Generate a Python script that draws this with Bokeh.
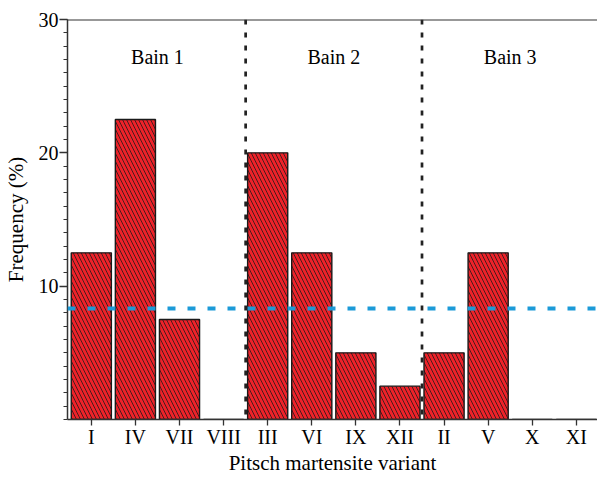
from bokeh.plotting import figure
from bokeh.models import Range1d, FixedTicker, Span, ColumnDataSource
from bokeh.embed import file_html
from bokeh.resources import INLINE
from bokeh.core.properties import value

# ---- data ----
variants = ["I", "IV", "VII", "VIII", "III", "VI", "IX", "XII", "II", "V", "X", "XI"]
frequency = [12.5, 22.5, 7.5, 0, 20, 12.5, 5, 2.5, 5, 12.5, 0, 0]
bain_groups = ["Bain 1", "Bain 2", "Bain 3"]
group_sizes = [4, 4, 4]
random_level = 8.33
y_ticks = [10, 20, 30]

FONT = "Liberation Serif"
AX = "#333333"

xs = list(range(len(variants)))
src = ColumnDataSource(dict(x=xs, top=frequency, name=variants))

p = figure(width=597, height=477, output_backend="svg", toolbar_location=None,
           x_range=Range1d(-0.54, 11.48), y_range=Range1d(0, 30),
           min_border_left=67, min_border_right=0, min_border_top=19,
           min_border_bottom=57)
p.outline_line_color = None
p.grid.visible = False
p.background_fill_color = "white"
p.border_fill_color = "white"

p.vbar(x="x", top="top", bottom=0, width=0.91, source=src,
       fill_color="#ee2229", line_color="#1a1a1a", line_width=1.4,
       hatch_pattern="left_diagonal_line", hatch_color="#1a1a1a",
       hatch_scale=8, hatch_weight=0.8)

# random-distribution reference line
p.add_layout(Span(location=random_level, dimension="width",
                  line_color="#1b9ad8", line_width=4, line_dash="8 12"))

# group separators and labels
start = 0
centers = []
bounds = []
for n in group_sizes:
    centers.append(start + (n - 1) / 2)
    start += n
    bounds.append(start - 0.5)
for b in bounds[:-1]:
    p.add_layout(Span(location=b, dimension="height", line_color="#222222",
                      line_width=2.7, line_dash="5 8"))

p.text(x=centers, y=[27.2] * len(centers), text=bain_groups,
       text_font=value(FONT), text_font_size="20px", text_color="black",
       text_align="center", text_baseline="middle")

# top border line
p.add_layout(Span(location=30, dimension="width", line_color=AX, line_width=2))

# axes
p.xaxis.ticker = FixedTicker(ticks=xs, minor_ticks=[])
p.xaxis.major_label_overrides = {i: v for i, v in zip(xs, variants)}
p.yaxis.ticker = FixedTicker(ticks=y_ticks, minor_ticks=list(range(0, 31)))

for ax in (p.xaxis[0], p.yaxis[0]):
    ax.axis_line_color = AX
    ax.axis_line_width = 1.5
    ax.major_tick_line_color = AX
    ax.minor_tick_line_color = AX
    ax.major_tick_line_width = 1.3
    ax.minor_tick_line_width = 1.1
    ax.major_tick_in = 0
    ax.minor_tick_in = 0
    ax.major_label_text_font = FONT
    ax.major_label_text_font_size = "20px"
    ax.major_label_text_color = "black"
    ax.axis_label_text_font = FONT
    ax.axis_label_text_font_size = "21px"
    ax.axis_label_text_font_style = "normal"
    ax.axis_label_text_color = "black"

p.xaxis.major_tick_out = 6
p.xaxis.major_label_standoff = 0
p.xaxis.axis_label = "Pitsch martensite variant"
p.xaxis.axis_label_standoff = 0

p.yaxis.major_tick_out = 8
p.yaxis.minor_tick_out = 4
p.yaxis.major_label_standoff = 1
p.yaxis.axis_label = "Frequency (%)"
p.yaxis.axis_label_standoff = 8

open("out.html", "w").write(file_html(p, INLINE))
